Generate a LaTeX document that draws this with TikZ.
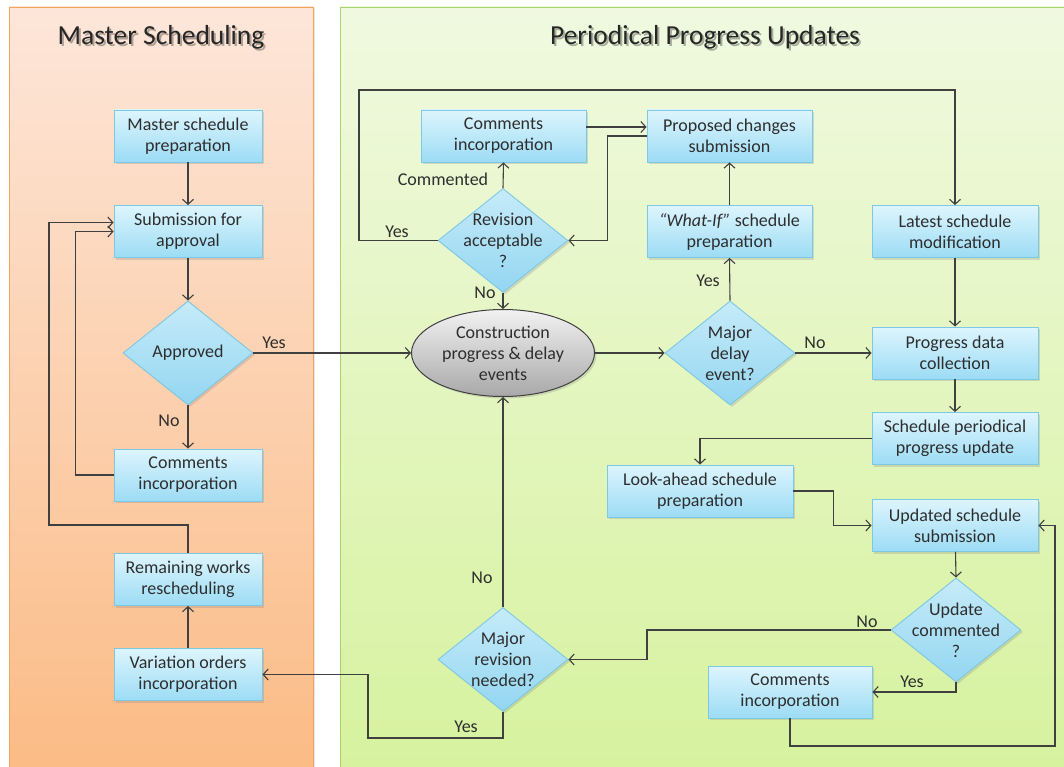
\documentclass[tikz,border=0pt]{standalone}
\usepackage{fontspec}
\setmainfont{Carlito}
\usetikzlibrary{shapes.geometric,arrows.meta,shadows,calc}

\definecolor{ink}{HTML}{2E2E2E}
\definecolor{wirecol}{HTML}{404040}
\definecolor{boxtop}{HTML}{DDF5FD}
\definecolor{boxbot}{HTML}{9CDCF5}
\definecolor{boxline}{HTML}{7DC8E4}
\definecolor{dtop}{HTML}{C6EBF9}
\definecolor{dbot}{HTML}{93D6F1}
\definecolor{msTop}{HTML}{FDE6D9}
\definecolor{msBot}{HTML}{FBBB85}
\definecolor{msLine}{HTML}{F6A35E}
\definecolor{ppTop}{HTML}{F0F9E0}
\definecolor{ppBot}{HTML}{D6F29E}
\definecolor{ppLine}{HTML}{A8D46C}
\definecolor{elTop}{HTML}{F2F2F2}
\definecolor{elBot}{HTML}{A8A8A8}

\tikzset{
  txt/.style={font=\fontsize{18}{21}\selectfont, text=ink, align=center},
  softshadow/.style={drop shadow={shadow xshift=2pt, shadow yshift=-2pt, opacity=0.25}},
  stepbox/.style={txt, draw=boxline, line width=0.9pt, top color=boxtop,
    bottom color=boxbot, minimum height=52pt, inner sep=0pt, softshadow},
  decision/.style={diamond, draw=boxline, line width=0.9pt, top color=dtop,
    bottom color=dbot, minimum width=130pt, minimum height=104pt,
    inner sep=0pt, softshadow},
  event/.style={ellipse, draw=wirecol, line width=1pt, top color=elTop,
    bottom color=elBot, minimum width=183pt, minimum height=87pt,
    inner sep=0pt, softshadow},
  inside/.style={label={[txt]center:#1}},
  wire/.style={draw=wirecol, line width=1.1pt,
    -{Straight Barb[length=5pt,width=11pt]}},
  tag/.style={txt},
  title/.style={font=\fontsize{27.5}{32}\selectfont, text=black!85},
  titleshade/.style={font=\fontsize{27.5}{32}\selectfont, text=black, opacity=0.3}
}

\begin{document}
\begin{tikzpicture}[x=1pt,y=-1pt]
  \useasboundingbox (0,0) rectangle (1064,767);
  \fill[white] (0,0) rectangle (1064,767);

  % swimlanes
  \shade[top color=msTop, bottom color=msBot, draw=msLine, line width=0.8pt,
    drop shadow={shadow xshift=1.5pt, shadow yshift=-1.5pt, opacity=0.2}]
    (9,7) rectangle (313,775);
  \shade[top color=ppTop, bottom color=ppBot, draw=ppLine, line width=0.8pt,
    drop shadow={shadow xshift=1.5pt, shadow yshift=-1.5pt, opacity=0.2}]
    (340,7) rectangle (1075,775);

  \node[titleshade] (t1s) at (163,39) {Master Scheduling};
  \node[title] (t1) at (161,37) {Master Scheduling};
  \node[titleshade] (t2s) at (707,39) {Periodical Progress Updates};
  \node[title] (t2) at (705,37) {Periodical Progress Updates};

  % master scheduling lane
  \node[stepbox, minimum width=148pt] (msp) at (188,136) {Master schedule\\preparation};
  \node[stepbox, minimum width=148pt] (sub) at (188,231.5) {Submission for\\approval};
  \node[decision, inside={Approved}] (appr) at (188,353) {};
  \node[stepbox, minimum width=148pt] (cil) at (188,475) {Comments\\incorporation};
  \node[stepbox, minimum width=148pt] (rem) at (188,579.5) {Remaining works\\rescheduling};
  \node[stepbox, minimum width=148pt] (var) at (188,674.5) {Variation orders\\incorporation};

  % periodical progress lane
  \node[event, inside={Construction\\progress \& delay\\events}] (cons) at (503,353) {};
  \node[decision, inside={Major\\delay\\event?}] (mde) at (730,353) {};
  \node[stepbox, minimum width=165pt] (wif) at (729.5,231.5) {\textit{“What-If”} schedule\\preparation};
  \node[stepbox, minimum width=165pt] (pcs) at (729.5,136) {Proposed changes\\submission};
  \node[stepbox, minimum width=165pt] (cit) at (503.5,136) {Comments\\incorporation};
  \node[decision, inside={Revision\\acceptable\\?}] (rev) at (503,240.5) {};
  \node[stepbox, minimum width=166pt] (lsm) at (955,231.5) {Latest schedule\\modification};
  \node[stepbox, minimum width=166pt] (pdc) at (955,353) {Progress data\\collection};
  \node[stepbox, minimum width=166pt] (spu) at (955,438.5) {Schedule periodical\\progress update};
  \node[stepbox, minimum width=186pt] (lap) at (700,491) {Look-ahead schedule\\preparation};
  \node[stepbox, minimum width=166pt] (uss) at (955,525.5) {Updated schedule\\submission};
  \node[decision, inside={Update\\commented\\?}] (ucm) at (956,630) {};
  \node[stepbox, minimum width=164pt] (cir) at (790,692) {Comments\\incorporation};
  \node[decision, inside={Major\\revision\\needed?}] (mrn) at (503,659.5) {};

  % bend points
  \coordinate (kA) at (49,525);
  \coordinate (kB) at (359,90);
  \coordinate (kC) at (647,630);
  \coordinate (kD) at (1055,746);
  \coordinate (kE) at (368,738);

  % master scheduling flow
  \draw[wire] (msp) -- (sub);
  \draw[wire] (sub) -- (appr);
  \draw[wire] (appr.south) -- (cil.north);
  \draw[wire] (appr.east) -- (cons.west);
  \draw[wire] (cil.west) -- ++(-38,0) |- (sub.west);
  \draw[wire] (rem.north) |- (kA) |- ($(sub.west)+(0,-9)$);
  \draw[wire] (var) -- (rem);

  % periodical progress flow
  \draw[wire] (cons.east) -- (mde.west);
  \draw[wire] (mde.east) -- (pdc.west);
  \draw[wire] (mde.north) -- (wif.south);
  \draw[wire] (wif) -- (pcs);
  \draw[wire] ($(cit.east)+(0,-9)$) -- ($(pcs.west)+(0,-9)$);
  \draw[wire] (pcs.west) -- ++(-39,0) |- (rev.east);
  \draw[wire] (rev.north) -- (cit.south);
  \draw[wire] (rev.west) -| (kB) -| (lsm.north);
  \draw[wire] (rev.south) -- (cons.north);
  \draw[wire] (lsm) -- (pdc);
  \draw[wire] (pdc) -- (spu);
  \draw[wire] (spu.west) -| (lap.north);
  \draw[wire] (lap.east) -- ++(40,0) |- (uss.west);
  \draw[wire] (uss) -- (ucm.north);
  \draw[wire] (ucm.west) -- (kC) |- (mrn.east);
  \draw[wire] (ucm.south) |- (cir.east);
  \draw[wire] (cir.south) |- (kD) |- (uss.east);
  \draw[wire] (mrn.north) -- (cons.south);
  \draw[wire] (mrn.south) |- (kE) |- (var.east);

  % branch labels
  \node[tag] (y1) at (274,343) {Yes};
  \node[tag] (n1) at (169,421) {No};
  \node[tag] (c1) at (443,179) {Commented};
  \node[tag] (y2) at (397,232) {Yes};
  \node[tag] (n2) at (485,293) {No};
  \node[tag] (y3) at (708,281) {Yes};
  \node[tag] (n3) at (815,343) {No};
  \node[tag] (n4) at (867,622) {No};
  \node[tag] (y4) at (912,682) {Yes};
  \node[tag] (n5) at (482,578) {No};
  \node[tag] (y5) at (466,727) {Yes};
\end{tikzpicture}
\end{document}
